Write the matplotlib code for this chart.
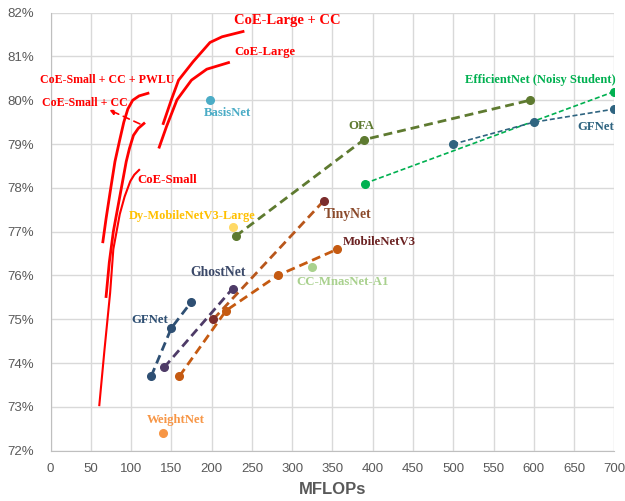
import matplotlib
matplotlib.use("Agg")
import matplotlib.pyplot as plt
from matplotlib.ticker import FuncFormatter, MultipleLocator

# CoE curves (MFLOPs, top-1 %)
coe_small_x = [60.6, 67, 74, 78, 86, 92, 99, 104, 110]
coe_small_y = [73.04, 74.3, 75.6, 76.6, 77.4, 77.8, 78.15, 78.3, 78.41]
coe_small_cc_x = [69, 73, 78, 84, 89, 94, 98, 103, 109, 116]
coe_small_cc_y = [75.52, 76.3, 77.0, 77.6, 78.1, 78.6, 78.9, 79.2, 79.36, 79.47]
coe_pwlu_x = [65, 69, 74, 80, 86, 91, 96, 102, 110, 121]
coe_pwlu_y = [76.77, 77.3, 77.9, 78.6, 79.1, 79.5, 79.8, 80.0, 80.1, 80.16]
coe_large_x = [135, 144, 157, 175, 194, 221]
coe_large_y = [78.93, 79.40, 80.01, 80.46, 80.71, 80.86]
coe_large_cc_x = [140, 150, 159, 177, 198, 213, 239]
coe_large_cc_y = [79.47, 80.01, 80.46, 80.88, 81.32, 81.45, 81.57]

# baselines
gfnet_s_x = [125, 150, 175]
gfnet_s_y = [73.7, 74.8, 75.4]
ghost_x = [141, 226]
ghost_y = [73.9, 75.7]
tiny_x = [202, 339]
tiny_y = [75.0, 77.7]
mbv3_x = [160, 218, 282, 356]
mbv3_y = [73.7, 75.2, 76.0, 76.6]
ofa_x = [230, 389, 595]
ofa_y = [76.9, 79.1, 80.0]
effnet_x = [390, 700]
effnet_y = [78.1, 80.2]
gfnet_l_x = [500, 600, 700]
gfnet_l_y = [79.0, 79.5, 79.8]

# single models
basis = (198, 80.0)
dy_mbv3 = (227, 77.1)
cc_mnas = (325, 76.2)
weightnet = (140, 72.4)

RED = "#FF0000"
LBL = dict(family="Liberation Serif", weight="bold", fontsize=9.2)

fig = plt.figure(figsize=(6.25, 5.01), dpi=100)
ax = fig.add_axes([0.0808, 0.1004, 0.9022, 0.8743])

ax.plot(coe_small_x, coe_small_y, c=RED, lw=1.5)
ax.plot(coe_small_cc_x, coe_small_cc_y, c=RED, lw=2)
ax.plot(coe_pwlu_x, coe_pwlu_y, c=RED, lw=2)
ax.plot(coe_large_x, coe_large_y, c=RED, lw=2)
ax.plot(coe_large_cc_x, coe_large_cc_y, c=RED, lw=2)

thick = dict(lw=2.0, ms=5.5, marker="o", dashes=(3.2, 1.8))
thin = dict(lw=1.2, ms=5.5, marker="o", dashes=(3.0, 1.6))
ax.plot(gfnet_s_x, gfnet_s_y, c="#2E4F73", **thick)
ax.plot(ghost_x, ghost_y, c="#4E3B67", **thick)
ax.plot(tiny_x, tiny_y, c="#B8561B", mfc="#7B2C2C", mec="#7B2C2C", **thick)
ax.plot(mbv3_x, mbv3_y, c="#C55A11", **thick)
ax.plot(ofa_x, ofa_y, c="#5E7A30", **thick)
ax.plot(effnet_x, effnet_y, c="#00B050", **thin)
ax.plot(gfnet_l_x, gfnet_l_y, c="#2F6480", **thin)

ax.plot(*basis, "o", c="#4BACC6", ms=5.5)
ax.plot(*dy_mbv3, "o", c="#FFD966", ms=5.5)
ax.plot(*cc_mnas, "o", c="#A9D18E", ms=5.5)
ax.plot(*weightnet, "o", c="#F79646", ms=5.5)

# dashed pointer from the CoE-Small + CC curve to its label
ax.annotate("", xy=(73, 79.78), xytext=(111, 79.46),
            arrowprops=dict(arrowstyle="-|>", color=RED, lw=1.2, ls=(0, (4, 3)),
                            mutation_scale=7, shrinkA=0, shrinkB=0))

def label(x, y, s, color, ha="left", size=None):
    kw = dict(LBL)
    if size:
        kw["fontsize"] = size
    ax.text(x, y, s, color=color, ha=ha, va="center", clip_on=False, **kw)

label(227.8, 81.83, "CoE-Large + CC", RED, size=10.5)
label(227.8, 81.1, "CoE-Large", RED)
label(-13, 80.46, "CoE-Small + CC + PWLU", RED, size=8.6)
label(-10.6, 79.94, "CoE-Small + CC", RED, size=8.6)
label(107.5, 78.18, "CoE-Small", RED)
label(220, 79.71, "BasisNet", "#4BACC6", ha="center")
label(701, 80.46, "EfficientNet (Noisy Student)", "#00B050", ha="right", size=9)
label(386, 79.41, "OFA", "#5E7A30", ha="center")
label(677, 79.39, "GFNet", "#2F6480", ha="center")
label(339.6, 77.4, "TinyNet", "#8B4A2B", size=9.8)
label(363.5, 76.76, "MobileNetV3", "#6B2222")
label(305, 75.85, "CC-MnasNet-A1", "#A9D18E")
label(97.5, 77.36, "Dy-MobileNetV3-Large", "#FFC000", size=8.9)
label(173.3, 76.06, "GhostNet", "#3A4868", size=9.8)
label(100, 74.98, "GFNet", "#2E4F73")
label(120, 72.7, "WeightNet", "#F79646")

ax.set_xlim(0, 700)
ax.set_ylim(72, 82)
ax.xaxis.set_major_locator(MultipleLocator(50))
ax.yaxis.set_major_locator(MultipleLocator(1))
ax.yaxis.set_major_formatter(FuncFormatter(lambda v, _: f"{v:.0f}%"))
ax.grid(True, color="#D9D9D9", lw=1)
ax.set_axisbelow(True)
for side in ("top", "right"):
    ax.spines[side].set_visible(False)
for side in ("left", "bottom"):
    ax.spines[side].set_color("#BFBFBF")
ax.tick_params(length=0, labelsize=9.5, labelcolor="#595959", pad=9)
ax.tick_params(axis="y", pad=12)
for t in ax.get_xticklabels() + ax.get_yticklabels():
    t.set_family("Liberation Sans")
ax.set_xlabel("MFLOPs", fontsize=12, fontweight="bold", color="#595959",
              family="Liberation Sans", labelpad=5)

fig.savefig("out.png", dpi=100)
